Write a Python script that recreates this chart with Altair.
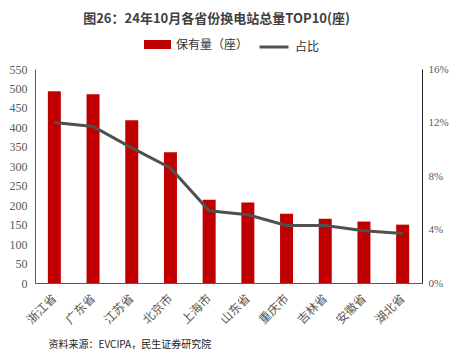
import altair as alt
import pandas as pd

provinces = ["浙江省", "广东省", "江苏省", "北京市", "上海市", "山东省", "重庆市", "吉林省", "安徽省", "湖北省"]
stations = [493, 485, 418, 336, 214, 207, 178, 165, 158, 150]
share_pct = [12.0, 11.7, 10.1, 8.6, 5.4, 5.1, 4.3, 4.3, 3.9, 3.7]

df = pd.DataFrame({
    "prov": provinces,
    "stations": stations,
    "share": share_pct,
    "s1": ["保有量（座）"] * len(provinces),
    "s2": ["占比"] * len(provinces),
})

FONT = "Noto Sans CJK SC"
NUMFONT = "Liberation Serif"
GREY = "#595959"

x_enc = alt.X(
    "prov:N", sort=provinces,
    scale=alt.Scale(paddingInner=0.666, paddingOuter=0.333),
    axis=alt.Axis(
        labelAngle=-45, labelAlign="right", labelBaseline="middle",
        labelFont=FONT, labelFontSize=12, labelColor=GREY, labelPadding=13,
        ticks=False, domainColor=GREY, domainWidth=1,
        title="资料来源：EVCIPA，民生证券研究院",
        titleFont=FONT, titleFontSize=10, titleFontWeight="normal", titleColor="#222222",
        titleAnchor="start", titleAlign="left", titleBaseline="middle",
        titleX=13, titleY=61,
    ),
)

bars = alt.Chart(df).mark_bar(size=13).encode(
    x=x_enc,
    y=alt.Y("stations:Q", scale=alt.Scale(domain=[0, 550], nice=False),
            axis=alt.Axis(values=list(range(0, 551, 50)), grid=False, ticks=False,
                          labelFont=NUMFONT, labelFontSize=12, labelColor=GREY, labelPadding=8,
                          domainColor=GREY, title=None)),
    color=alt.Color("s1:N", scale=alt.Scale(range=["#C00000"]),
                    legend=alt.Legend(orient="none", legendX=109, legendY=-38, title=None,
                                      symbolType="M-1,-0.333H1V0.333H-1Z", symbolSize=729,
                                      symbolStrokeWidth=0, labelFont=FONT, labelFontSize=12,
                                      labelColor="#333333", labelOffset=5)),
)

line = alt.Chart(df).mark_line(strokeWidth=3).encode(
    x=alt.X("prov:N", sort=provinces),
    y=alt.Y("share:Q", scale=alt.Scale(domain=[0, 16], nice=False),
            axis=alt.Axis(orient="right", values=[0, 4, 8, 12, 16], grid=False, ticks=False,
                          labelExpr="datum.value + '%'", labelFont=NUMFONT, labelFontSize=11,
                          labelColor=GREY, labelPadding=6, domainColor="#222222", title=None)),
    stroke=alt.Stroke("s2:N", scale=alt.Scale(range=["#505050"]),
                      legend=alt.Legend(orient="none", legendX=223, legendY=-38, title=None,
                                        symbolType="stroke", symbolSize=841, symbolStrokeWidth=3,
                                        labelFont=FONT, labelFontSize=12, labelColor="#333333",
                                        labelOffset=5)),
)

chart = alt.layer(bars, line).resolve_scale(y="independent", color="independent").properties(
    width=387, height=214,
    autosize=alt.AutoSizeParams(type="none"),
    padding={"left": 27, "top": 61, "right": 27, "bottom": 68},
    title=alt.TitleParams("图26：24年10月各省份换电站总量TOP10(座)", font=FONT, fontSize=13,
                          fontWeight="bold", color="#404040", anchor="middle", dx=-12, offset=5),
).configure_view(stroke=None)

chart.save("out.html", embed_options={"renderer": "svg", "actions": False})
